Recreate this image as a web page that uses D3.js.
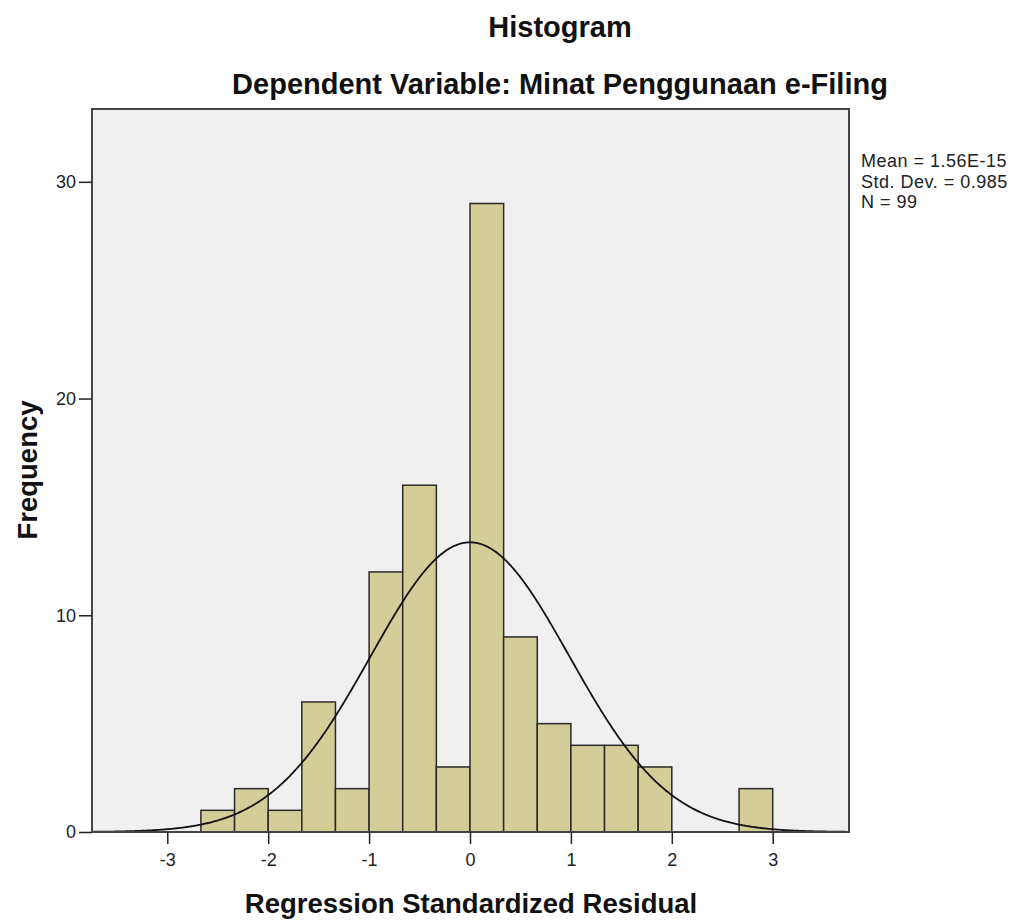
<!DOCTYPE html>
<html><head><meta charset="utf-8">
<script src="https://cdn.jsdelivr.net/npm/d3@7"></script>
<style>body{margin:0;background:#fff}svg{display:block}text{font-family:"Liberation Sans",Arial,sans-serif}</style>
</head><body>
<svg id="c" width="1021" height="923"></svg>
<script>
const binStarts = [-8/3,-7/3,-2,-5/3,-4/3,-1,-2/3,-1/3,0,1/3,2/3,1,4/3,5/3,2,7/3,8/3];
const frequencies = [1,2,1,6,2,12,16,3,29,9,5,4,4,3,0,0,2];
const binWidth = 1/3;
const xTicks = [-3,-2,-1,0,1,2,3];
const yTicks = [0,10,20,30];
const stats = ["Mean = 1.56E-15","Std. Dev. = 0.985","N = 99"];
const mean = 1.56e-15, sd = 0.985, n = 99;

const svg = d3.select("#c");
const L=92, R=849, T=109, B=832;
const x = d3.scaleLinear().domain([-3.746,3.756]).range([L,R]);
const y = d3.scaleLinear().domain([0,33.36]).range([B,T]);

svg.append("rect").attr("x",L).attr("y",T).attr("width",R-L).attr("height",B-T).attr("fill","#f0f0f0");

const barData = frequencies.map((f,i)=>({x0:binStarts[i],f})).filter(d=>d.f>0);
svg.selectAll("rect.bar").data(barData)
 .join("rect").attr("class","bar")
 .attr("x",d=>x(d.x0)).attr("width",d=>x(d.x0+binWidth)-x(d.x0))
 .attr("y",d=>y(d.f)).attr("height",d=>y(0)-y(d.f))
 .attr("fill","#d3ce97").attr("stroke","#2a2a2a").attr("stroke-width",1.5);

// normal curve
const pts = d3.range(-3.746,3.757,0.01).map(v=>[v, n*binWidth/(sd*Math.sqrt(2*Math.PI))*Math.exp(-0.5*((v-mean)/sd)**2)]);
svg.append("path").attr("d",d3.line().x(d=>x(d[0])).y(d=>y(d[1]))(pts))
 .attr("fill","none").attr("stroke","#111").attr("stroke-width",1.8);

// frame
svg.append("rect").attr("x",L).attr("y",T).attr("width",R-L).attr("height",B-T).attr("fill","none").attr("stroke","#444").attr("stroke-width",2);

const xa = svg.append("g").attr("transform",`translate(0,${B})`).call(d3.axisBottom(x).tickValues(xTicks).tickSize(12).tickPadding(9).tickFormat(d=>String(d)));
xa.select(".domain").remove();
xa.selectAll("line").attr("stroke","#222").attr("stroke-width",1.5);
xa.selectAll("text").attr("font-size",18).attr("fill","#222").style("font-family","'Liberation Sans',Arial,sans-serif");

const ya = svg.append("g").attr("transform",`translate(${L},0)`).call(d3.axisLeft(y).tickValues(yTicks).tickSize(13).tickPadding(3).tickFormat(d=>String(d)));
ya.select(".domain").remove();
ya.selectAll("line").attr("stroke","#222").attr("stroke-width",1.5);
ya.selectAll("text").attr("font-size",18).attr("fill","#222").style("font-family","'Liberation Sans',Arial,sans-serif");

svg.append("text").attr("x",560).attr("y",37).attr("text-anchor","middle").attr("font-size",29).attr("font-weight","bold").attr("fill","#111").text("Histogram");
svg.append("text").attr("x",560).attr("y",94).attr("text-anchor","middle").attr("font-size",29).attr("font-weight","bold").attr("fill","#111").text("Dependent Variable: Minat Penggunaan e-Filing");
svg.append("text").attr("x",471).attr("y",913).attr("text-anchor","middle").attr("font-size",27.5).attr("font-weight","bold").attr("fill","#111").text("Regression Standardized Residual");
svg.append("text").attr("transform","translate(37,470) rotate(-90)").attr("text-anchor","middle").attr("font-size",27.5).attr("font-weight","bold").attr("fill","#111").text("Frequency");

svg.selectAll("text.stat").data(stats).join("text").attr("class","stat")
 .attr("x",861).attr("y",(d,i)=>167+i*20.5).attr("font-size",18).attr("letter-spacing",0.5).attr("fill","#222").text(d=>d);
</script>
</body></html>
